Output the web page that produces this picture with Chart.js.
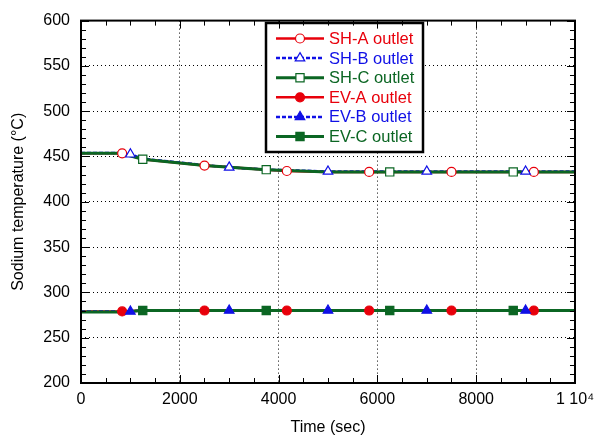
<!DOCTYPE html>
<html>
<head>
<meta charset="utf-8">
<script src="https://cdn.jsdelivr.net/npm/chart.js@4"></script>
<style>
  html, body { margin: 0; padding: 0; background: #fff; }
  #wrap { width: 601px; height: 437px; }
</style>
</head>
<body>
<div id="wrap"><canvas id="chart" width="601" height="437"></canvas></div>
<script>
// time (sec) / temperature (C), plus the times where a marker sits

const shaTime = [0, 833, 1250, 2500, 3750, 4167, 5000, 5833, 7500, 9167, 10000];
const shaTemp = [453.5, 453.5, 447, 440, 435.5, 434, 433, 433, 433, 433, 433];
const shaMarks = [833, 2500, 4167, 5833, 7500, 9167];

const shbTime = [0, 800, 1000, 1250, 2500, 3000, 3750, 5000, 7000, 9000, 10000];
const shbTemp = [454, 454, 452.5, 447.5, 440.5, 438, 435.5, 433.5, 433.5, 433.5, 433.5];
const shbMarks = [1000, 3000, 5000, 7000, 9000];

const shcTime = [0, 800, 1250, 2500, 3750, 5000, 6250, 8750, 10000];
const shcTemp = [453.5, 453.5, 447, 440, 435.5, 433, 433, 433, 433];
const shcMarks = [1250, 3750, 6250, 8750];

const evaTime = [0, 833, 1250, 2500, 4167, 5833, 7500, 9167, 10000];
const evaTemp = [279, 279, 280, 280, 280, 280, 280, 280, 280];
const evaMarks = [833, 2500, 4167, 5833, 7500, 9167];

const evbTime = [0, 800, 1000, 1250, 3000, 5000, 7000, 9000, 10000];
const evbTemp = [279, 279, 279, 280, 280, 280, 280, 280, 280];
const evbMarks = [1000, 3000, 5000, 7000, 9000];

const evcTime = [0, 800, 1250, 3750, 6250, 8750, 10000];
const evcTemp = [278.5, 278.5, 280, 280, 280, 280, 280];
const evcMarks = [1250, 3750, 6250, 8750];

const xTicks = [0, 2000, 4000, 6000, 8000, 10000];
const yTicks = [200, 250, 300, 350, 400, 450, 500, 550, 600];

const RED = '#e8000b';
const BLUE = '#1010e6';
const GREEN = '#0b6623';
const FONT = "'Liberation Sans', Arial, sans-serif";

const series = [
    { label: 'SH-A outlet', time: shaTime, temp: shaTemp, marks: shaMarks, color: RED, dash: [], style: 'circle', filled: false, r: 4.5 },
    { label: 'SH-B outlet', time: shbTime, temp: shbTemp, marks: shbMarks, color: BLUE, dash: [4, 2], style: 'triangle', filled: false, r: 5.5 },
    { label: 'SH-C outlet', time: shcTime, temp: shcTemp, marks: shcMarks, color: GREEN, dash: [], style: 'rect', filled: false, r: 5.8 },
    { label: 'EV-A outlet', time: evaTime, temp: evaTemp, marks: evaMarks, color: RED, dash: [], style: 'circle', filled: true, r: 4.5 },
    { label: 'EV-B outlet', time: evbTime, temp: evbTemp, marks: evbMarks, color: BLUE, dash: [4, 2], style: 'triangle', filled: true, r: 5.5 },
    { label: 'EV-C outlet', time: evcTime, temp: evcTemp, marks: evcMarks, color: GREEN, dash: [], style: 'rect', filled: true, r: 5.8 }
];

// lines go first (green last so it sits on top), then all markers on top of the lines
const lineOrder = [0, 3, 1, 4, 2, 5];
const datasets = [];
lineOrder.forEach((i, k) => {
    const s = series[i];
    datasets.push({
        label: s.label,
        data: s.time.map((t, j) => ({ x: t, y: s.temp[j] })),
        borderColor: s.color,
        borderWidth: s.color === GREEN ? 3 : 2.5,
        borderDash: s.dash,
        pointRadius: 0,
        showLine: true,
        fill: false,
        order: 100 - k
    });
});
series.forEach((s, i) => {
    datasets.push({
        label: s.label + ' marks',
        data: s.time.map((t, j) => ({ x: t, y: s.temp[j] })).filter(p => s.marks.includes(p.x)),
        showLine: false,
        pointStyle: s.style,
        pointRadius: s.r,
        pointBorderWidth: 1.2,
        pointBorderColor: s.color,
        pointBackgroundColor: s.filled ? s.color : '#ffffff',
        order: 50 - i
    });
});

// boxed legend with line samples and coloured text
const legendBox = {
    id: 'legendBox',
    afterDatasetsDraw(chart) {
        const ctx = chart.ctx;
        const left = 266, top = 23, right = 423, bottom = 152;
        ctx.save();
        ctx.fillStyle = '#fff';
        ctx.fillRect(left, top, right - left, bottom - top);
        ctx.lineWidth = 2.5;
        ctx.strokeStyle = '#000';
        ctx.strokeRect(left, top, right - left, bottom - top);
        series.forEach((s, i) => {
            const y = 38.5 + i * 19.6;
            ctx.beginPath();
            ctx.lineWidth = s.color === GREEN ? 3 : 2.5;
            ctx.strokeStyle = s.color;
            ctx.setLineDash(s.dash);
            ctx.moveTo(276, y);
            ctx.lineTo(324, y);
            ctx.stroke();
            ctx.setLineDash([]);
            ctx.lineWidth = 1.2;
            ctx.fillStyle = s.filled ? s.color : '#fff';
            Chart.helpers.drawPoint(ctx, { pointStyle: s.style, radius: s.r, rotation: 0, borderWidth: 1.2 }, 300, y);
            ctx.fillStyle = s.color;
            ctx.font = '16.5px ' + FONT;
            ctx.textBaseline = 'middle';
            ctx.textAlign = 'left';
            ctx.fillText(s.label, 329, y + 1);
        });
        ctx.restore();
    }
};

// frame with inward major/minor ticks on all four sides
const frameTicks = {
    id: 'frameTicks',
    afterDraw(chart) {
        const { ctx, chartArea: a, scales: { x, y } } = chart;
        ctx.save();
        ctx.strokeStyle = '#000';
        ctx.lineWidth = 1;
        ctx.beginPath();
        for (let t = 0; t <= 10000; t += 500) {
            const px = Math.round(x.getPixelForValue(t)) + 0.5;
            const len = t % 2000 === 0 ? 8 : 5;
            ctx.moveTo(px, a.bottom); ctx.lineTo(px, a.bottom - len);
            ctx.moveTo(px, a.top); ctx.lineTo(px, a.top + len);
        }
        for (let v = 200; v <= 600; v += 10) {
            const py = Math.round(y.getPixelForValue(v)) + 0.5;
            const len = v % 50 === 0 ? 8 : 5;
            ctx.moveTo(a.left, py); ctx.lineTo(a.left + len, py);
            ctx.moveTo(a.right, py); ctx.lineTo(a.right - len, py);
        }
        ctx.stroke();
        ctx.lineWidth = 2;
        ctx.strokeRect(a.left, a.top, a.right - a.left, a.bottom - a.top);
        ctx.restore();
    }
};

new Chart(document.getElementById('chart'), {
    type: 'scatter',
    data: { datasets },
    options: {
        responsive: false,
        animation: false,
        layout: { padding: { left: 9, right: 24, top: 15, bottom: 0 } },
        plugins: {
            legend: { display: false },
            tooltip: { enabled: false }
        },
        scales: {
            x: {
                type: 'linear',
                min: 0,
                max: 10000,
                afterBuildTicks: s => { s.ticks = xTicks.map(v => ({ value: v })); },
                afterFit: s => { s.height = 54; },
                ticks: {
                    color: '#000',
                    padding: 7,
                    maxRotation: 0,
                    font: { family: FONT, size: 16 },
                    callback: v => v === 10000 ? '1 10\u2074' : String(v)
                },
                grid: { color: '#000', lineWidth: 1, drawTicks: false },
                border: { display: false, dash: [1, 3] },
                title: {
                    display: true,
                    text: 'Time (sec)',
                    color: '#000',
                    padding: { top: 4, bottom: 0 },
                    font: { family: FONT, size: 16 }
                }
            },
            y: {
                type: 'linear',
                min: 200,
                max: 600,
                afterBuildTicks: s => { s.ticks = yTicks.map(v => ({ value: v })); },
                afterFit: s => { s.width = 72; },
                ticks: {
                    color: '#000',
                    padding: 11,
                    font: { family: FONT, size: 16 }
                },
                grid: { color: '#000', lineWidth: 1, drawTicks: false },
                border: { display: false, dash: [1, 3] },
                title: {
                    display: true,
                    text: 'Sodium temperature (\u00B0C)',
                    color: '#000',
                    padding: { top: 0, bottom: 6 },
                    font: { family: FONT, size: 16 }
                }
            }
        }
    },
    plugins: [legendBox, frameTicks]
});
</script>
</body>
</html>
